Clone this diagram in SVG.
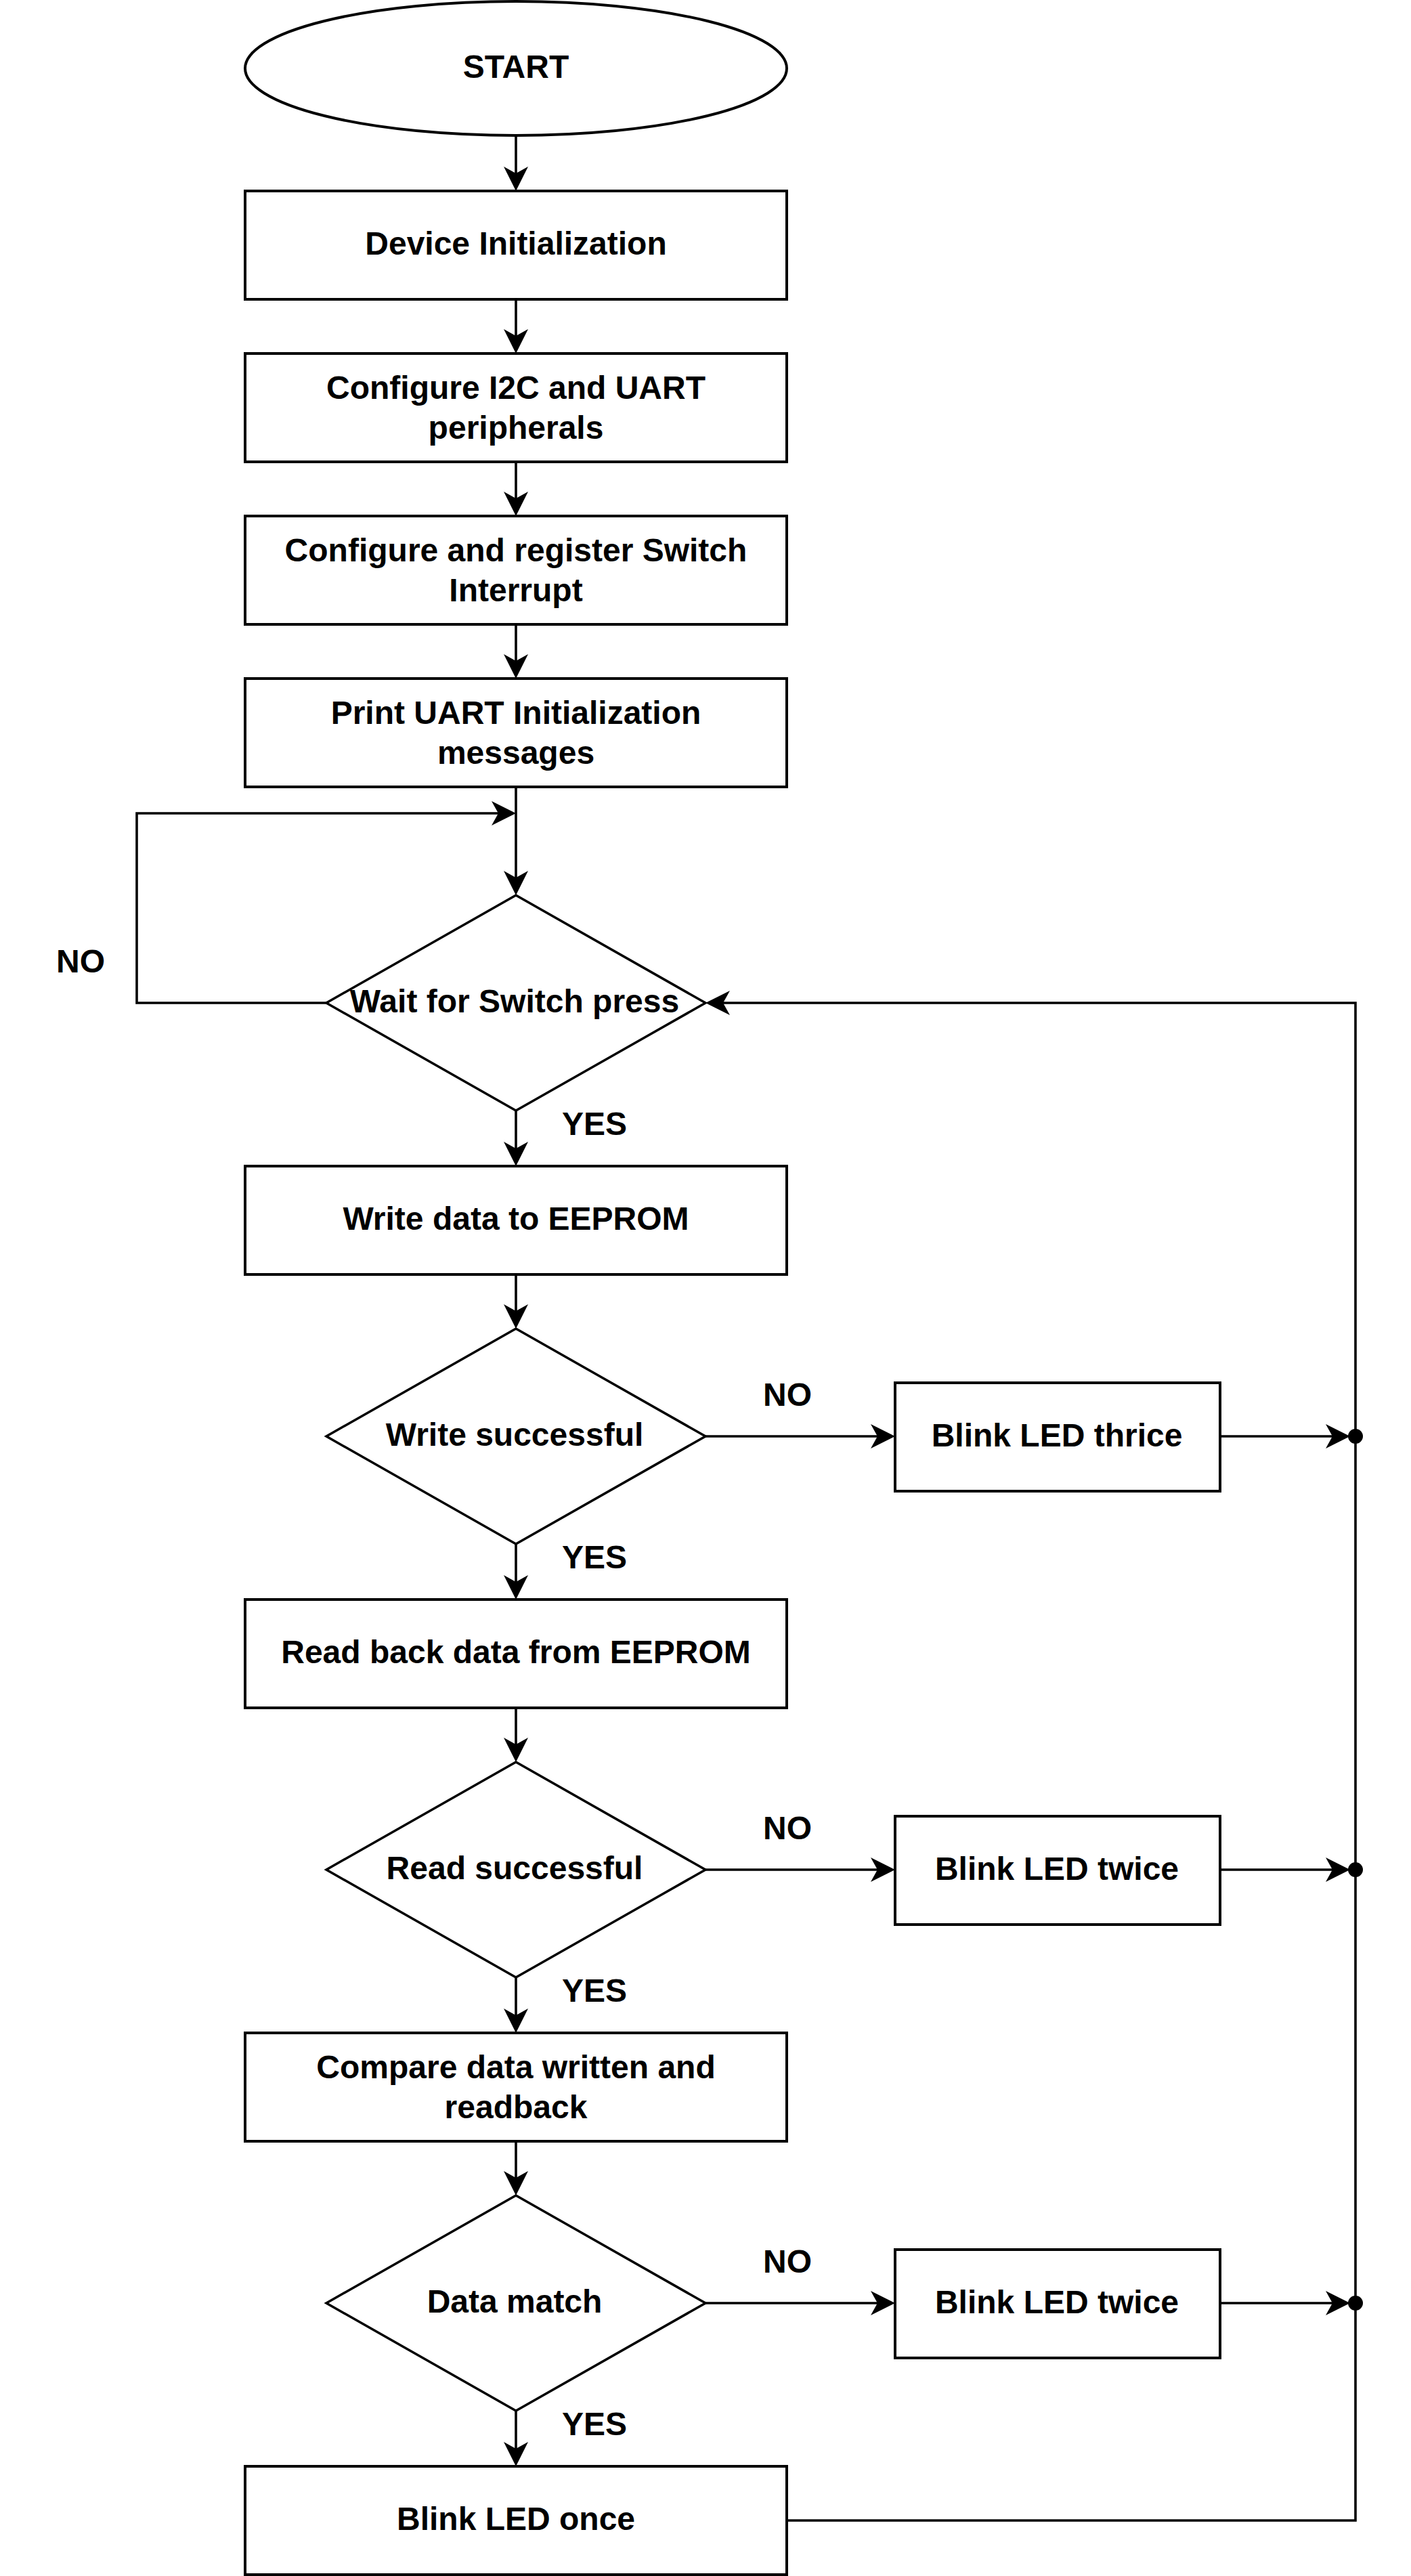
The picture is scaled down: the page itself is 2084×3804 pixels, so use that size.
<svg xmlns="http://www.w3.org/2000/svg" width="2084" height="3804" viewBox="0 0 2084 3804">
<style>
.shape{fill:#fff;stroke:#000;stroke-width:4}
.dia{fill:#fff;stroke:#000;stroke-width:3.5}
.edge{fill:none;stroke:#000;stroke-width:3.6}
text{font-family:"Liberation Sans",Arial,sans-serif;font-weight:bold;font-size:48px;fill:#000;text-anchor:middle}
</style>
<defs>
<marker id="arr" markerUnits="userSpaceOnUse" viewBox="0 0 36 36" markerWidth="36" markerHeight="36" refX="32" refY="18" orient="auto">
<path d="M0,0 L36,18 L0,36 L10,18 Z" fill="#000"/>
</marker>
</defs>
<rect width="2084" height="3804" fill="#fff"/>
<g id="connectors">
<path class="edge" d="M762,201 L762,278" marker-end="url(#arr)"/>
<path class="edge" d="M762,442 L762,518" marker-end="url(#arr)"/>
<path class="edge" d="M762,682 L762,758" marker-end="url(#arr)"/>
<path class="edge" d="M762,922 L762,998" marker-end="url(#arr)"/>
<path class="edge" d="M762,1162 L762,1318" marker-end="url(#arr)"/>
<path class="edge" d="M482,1481 L202,1481 L202,1201 L758,1201" marker-end="url(#arr)"/>
<path class="edge" d="M762,1640 L762,1718" marker-end="url(#arr)"/>
<path class="edge" d="M762,1882 L762,1958" marker-end="url(#arr)"/>
<path class="edge" d="M1042,2121 L1318,2121" marker-end="url(#arr)"/>
<path class="edge" d="M1802,2121 L1990,2121" marker-end="url(#arr)"/>
<path class="edge" d="M762,2280 L762,2358" marker-end="url(#arr)"/>
<path class="edge" d="M762,2522 L762,2598" marker-end="url(#arr)"/>
<path class="edge" d="M1042,2761 L1318,2761" marker-end="url(#arr)"/>
<path class="edge" d="M1802,2761 L1990,2761" marker-end="url(#arr)"/>
<path class="edge" d="M762,2920 L762,2998" marker-end="url(#arr)"/>
<path class="edge" d="M762,3162 L762,3238" marker-end="url(#arr)"/>
<path class="edge" d="M1042,3401 L1318,3401" marker-end="url(#arr)"/>
<path class="edge" d="M1802,3401 L1990,3401" marker-end="url(#arr)"/>
<path class="edge" d="M762,3560 L762,3638" marker-end="url(#arr)"/>
<path class="edge" d="M1162,3722 L2002,3722 L2002,1481 L1046,1481" marker-end="url(#arr)"/>
<circle cx="2002" cy="2121" r="11" fill="#000"/>
<circle cx="2002" cy="2761" r="11" fill="#000"/>
<circle cx="2002" cy="3401" r="11" fill="#000"/>
<text x="119" y="1436">NO</text>
<text x="878" y="1676">YES</text>
<text x="1163" y="2076">NO</text>
<text x="878" y="2316">YES</text>
<text x="1163" y="2716">NO</text>
<text x="878" y="2956">YES</text>
<text x="1163" y="3356">NO</text>
<text x="878" y="3596">YES</text>
</g>
<g id="start"><ellipse class="shape" cx="762" cy="101" rx="400" ry="99"/><text x="762" y="115">START</text></g>
<g id="init"><rect class="shape" x="362" y="282" width="800" height="160"/><text x="762" y="376">Device Initialization</text></g>
<g id="config-periph"><rect class="shape" x="362" y="522" width="800" height="160"/><text x="762" y="589">Configure I2C and UART</text><text x="762" y="648">peripherals</text></g>
<g id="config-int"><rect class="shape" x="362" y="762" width="800" height="160"/><text x="762" y="829">Configure and register Switch</text><text x="762" y="888">Interrupt</text></g>
<g id="print-uart"><rect class="shape" x="362" y="1002" width="800" height="160"/><text x="762" y="1069">Print UART Initialization</text><text x="762" y="1128">messages</text></g>
<g id="wait-switch"><polygon class="dia" points="762,1322 1042,1481 762,1640 482,1481"/><text x="760" y="1495">Wait for Switch press</text></g>
<g id="write-data"><rect class="shape" x="362" y="1722" width="800" height="160"/><text x="762" y="1816">Write data to EEPROM</text></g>
<g id="write-ok"><polygon class="dia" points="762,1962 1042,2121 762,2280 482,2121"/><text x="760" y="2135">Write successful</text></g>
<g id="blink-thrice"><rect class="shape" x="1322" y="2042" width="480" height="160"/><text x="1561" y="2136">Blink LED thrice</text></g>
<g id="read-back"><rect class="shape" x="362" y="2362" width="800" height="160"/><text x="762" y="2456">Read back data from EEPROM</text></g>
<g id="read-ok"><polygon class="dia" points="762,2602 1042,2761 762,2920 482,2761"/><text x="760" y="2775">Read successful</text></g>
<g id="blink-twice-1"><rect class="shape" x="1322" y="2682" width="480" height="160"/><text x="1561" y="2776">Blink LED twice</text></g>
<g id="compare"><rect class="shape" x="362" y="3002" width="800" height="160"/><text x="762" y="3069">Compare data written and</text><text x="762" y="3128">readback</text></g>
<g id="data-match"><polygon class="dia" points="762,3242 1042,3401 762,3560 482,3401"/><text x="760" y="3415">Data match</text></g>
<g id="blink-twice-2"><rect class="shape" x="1322" y="3322" width="480" height="160"/><text x="1561" y="3416">Blink LED twice</text></g>
<g id="blink-once"><rect class="shape" x="362" y="3642" width="800" height="160"/><text x="762" y="3736">Blink LED once</text></g>
</svg>
